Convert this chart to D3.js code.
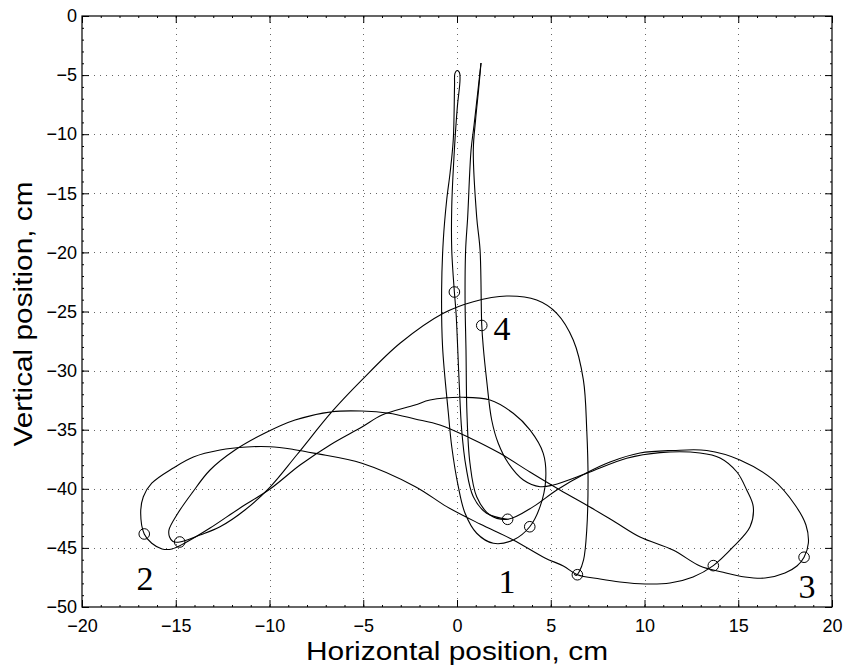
<!DOCTYPE html>
<html>
<head>
<meta charset="utf-8">
<script src="https://cdn.jsdelivr.net/npm/d3@7"></script>
<style>
  body { margin: 0; background: #fff; }
  svg { display: block; }
  .tick text { font-family: "Liberation Sans", Arial, sans-serif; font-size: 18px; fill: #000; }
</style>
</head>
<body>
<svg id="chart" width="848" height="670"></svg>
<script>
// trajectories, [horizontal cm, vertical cm]
const trajA = [
  [1.28,-3.98],[1.12,-6.26],[0.91,-9.22],[0.75,-11.34],[0.57,-17.00],[0.46,-19.80],[0.43,-24.03],
  [0.48,-28.26],[0.53,-33.59],[0.69,-37.82],[1.05,-40.67],[1.76,-42.22],[2.70,-42.58],
  [4.07,-41.51],[5.32,-40.10],[6.92,-38.64],[8.16,-37.73],[9.76,-36.97],[11.52,-36.76],[13.32,-36.76],
  [15.09,-37.56],[16.87,-39.25],[18.03,-41.37],[18.61,-43.06],[18.74,-44.58],[18.51,-45.79],
  [18.13,-46.53],[17.49,-47.12],[16.43,-47.55],[15.36,-47.46],[14.13,-47.04],[12.96,-46.53],
  [11.52,-45.18],[9.76,-44.08],[8.43,-42.81],[7.09,-41.54],[5.49,-40.10],[3.89,-38.58],[2.29,-37.00],
  [0.69,-35.70],[-0.91,-34.60],[-2.24,-34.09],[-3.63,-33.61],[-5.07,-33.42],[-6.67,-33.48],
  [-8.64,-34.18],[-10.24,-35.28],[-11.84,-36.72],[-13.17,-38.41],[-14.13,-40.35],[-14.88,-42.05],
  [-15.36,-43.48],[-15.33,-44.08],[-15.15,-44.46],[-14.79,-44.50],
  [-13.71,-43.91],[-12.64,-43.21],[-11.31,-41.79],[-9.97,-39.85],[-8.55,-37.14],[-6.67,-33.48],
  [-5.07,-30.79],[-3.04,-27.69],[-0.73,-25.15],[0.87,-24.17],[2.65,-23.69],[4.25,-24.03],
  [5.32,-25.15],[6.20,-27.41],[6.74,-30.79],[6.92,-35.02],[6.99,-39.25],[6.92,-43.48],
  [6.75,-46.02],[6.51,-47.04],[6.35,-47.33],[6.25,-47.20]
]

const trajB = [
  [2.70,-42.58],[1.58,-42.07],[0.87,-40.67],[0.48,-38.13],[0.25,-35.02],[0.11,-30.79],[-0.05,-25.13],
  [-0.14,-23.35],[-0.28,-19.80],[-0.28,-16.13],[-0.14,-11.34],[0.02,-7.67],[0.16,-5.41],[0.13,-4.78],
  [0,-4.61],[-0.11,-4.86],[-0.13,-5.84],[-0.20,-10.49],[-0.37,-13.28],[-0.55,-15.57],[-0.73,-18.95],
  [-0.82,-23.18],[-0.77,-27.98],[-0.46,-33.61],[-0.28,-36.44],[0.07,-39.82],[0.43,-42.07],
  [1.05,-43.76],[1.94,-44.61],[3.00,-44.33],[3.88,-43.21],
  [4.43,-41.51],[4.73,-39.25],[4.60,-37.00],[3.89,-35.02],[3.00,-33.61],[1.76,-32.49],[0.34,-32.26],
  [-1.44,-32.49],[-2.24,-32.91],[-4.00,-33.76],[-5.07,-34.77],[-6.77,-36.29],[-8.37,-37.99],
  [-9.97,-40.02],[-11.57,-41.62],[-13.17,-43.32],[-14.51,-44.58],[-15.20,-45.09],[-15.73,-45.09],
  [-16.28,-44.61],[-16.68,-43.82],[-16.87,-42.07],[-16.73,-40.67],[-16.28,-39.53],[-15.13,-38.24],
  [-14.06,-37.31],[-12.64,-36.72],[-11.22,-36.46],[-9.97,-36.44],[-8.73,-36.67],[-7.56,-37.00],
  [-5.07,-37.84],[-2.22,-39.82],[-0.55,-41.51],[1.23,-42.98],[3.00,-44.33],[4.69,-45.85],
  [5.67,-46.53],[6.42,-47.27],[7.63,-47.63],[8.69,-47.88],[10.03,-48.05],[11.36,-47.97],
  [12.59,-47.46],[13.67,-46.50],[14.74,-44.90],[15.63,-43.21],[15.80,-41.51],[15.45,-40.10],
  [14.93,-38.58],[14.03,-37.39],[12.96,-36.97],[10.83,-36.94],[9.05,-37.42],[6.92,-38.69],
  [5.14,-39.68],[4.43,-39.82],[3.54,-39.25],[2.74,-37.84],[2.20,-36.15],[1.85,-34.18],
  [1.58,-30.79],[1.40,-27.98],[1.32,-26.14],[1.23,-19.80],[1.05,-17.00],[0.87,-11.34],
  [0.99,-8.80],[1.15,-6.26],[1.28,-3.98]
]

// circle markers
const markers = [
  [-16.68,-43.82],[-14.79,-44.50],[-0.14,-23.35],[1.32,-26.18],[2.70,-42.58],
  [3.88,-43.21],[6.42,-47.27],[13.67,-46.50],[18.51,-45.79]
]

// target numbers
const targetLabels = [
  { text: "1", x: 2.67, y: -48.8 },
  { text: "2", x: -16.64, y: -48.56 },
  { text: "3", x: 18.67, y: -49.24 },
  { text: "4", x: 2.4, y: -27.41 }
]

const xTicks = d3.range(-20, 21, 5)
const yTicks = d3.range(-50, 1, 5)
const xMinor = d3.range(-20, 21, 1)
const yMinor = d3.range(-50, 1, 1)

const svg = d3.select("#chart")
const mLeft = 82, mRight = 832, mTop = 16, mBottom = 607

const x = d3.scaleLinear().domain([-20, 20]).range([mLeft, mRight])
const y = d3.scaleLinear().domain([-50, 0]).range([mBottom, mTop])

svg.append("rect").attr("width", 848).attr("height", 670).attr("fill", "#fff")

//grid
const grid = svg.append("g")
  .attr("stroke", "#666")
  .attr("stroke-width", 1)
  .attr("stroke-dasharray", "1,5")

grid.selectAll(".gx")
  .data(xTicks.slice(1, -1))
  .join("line")
  .attr("x1", (d) => Math.round(x(d)) + 0.5)
  .attr("x2", (d) => Math.round(x(d)) + 0.5)
  .attr("y1", mTop).attr("y2", mBottom)

grid.selectAll(".gy")
  .data(yTicks.slice(1, -1))
  .join("line")
  .attr("y1", (d) => Math.round(y(d)) + 0.5)
  .attr("y2", (d) => Math.round(y(d)) + 0.5)
  .attr("x1", mLeft).attr("x2", mRight)

//curves
const line = d3.line()
  .x((d) => x(d[0]))
  .y((d) => y(d[1]))
  .curve(d3.curveCatmullRom.alpha(0.5))

svg.selectAll(".traj")
  .data([trajA, trajB])
  .join("path")
  .attr("d", line)
  .attr("fill", "none")
  .attr("stroke", "#000")
  .attr("stroke-width", 1.1)

svg.selectAll(".mk")
  .data(markers)
  .join("circle")
  .attr("cx", (d) => x(d[0]))
  .attr("cy", (d) => y(d[1]))
  .attr("r", 5.3)
  .attr("fill", "none")
  .attr("stroke", "#000")
  .attr("stroke-width", 1)

svg.selectAll(".lbl")
  .data(targetLabels)
  .join("text")
  .attr("x", (d) => x(d.x))
  .attr("y", (d) => y(d.y))
  .attr("text-anchor", "middle")
  .attr("font-family", "'Liberation Serif', 'Times New Roman', serif")
  .attr("font-size", 34)
  .text((d) => d.text)

//axes
const fmt = (d) => (d < 0 ? "\u2212" + Math.abs(d) : d)

svg.append("g")
  .attr("transform", `translate(0,${mBottom})`)
  .call(d3.axisBottom(x).tickValues(xTicks).tickSize(-7).tickSizeOuter(0).tickPadding(12).tickFormat(fmt))
svg.append("g")
  .attr("transform", `translate(${mLeft},0)`)
  .call(d3.axisLeft(y).tickValues(yTicks).tickSize(-7).tickSizeOuter(0).tickPadding(5).tickFormat(fmt))
svg.append("g")
  .attr("transform", `translate(0,${mTop})`)
  .call(d3.axisTop(x).tickValues(xTicks).tickSize(-7).tickSizeOuter(0).tickFormat(""))
svg.append("g")
  .attr("transform", `translate(${mRight},0)`)
  .call(d3.axisRight(y).tickValues(yTicks).tickSize(-7).tickSizeOuter(0).tickFormat(""))

// minor ticks
svg.append("g").attr("transform", `translate(0,${mBottom})`)
  .call(d3.axisBottom(x).tickValues(xMinor).tickSize(-2).tickSizeOuter(0).tickFormat(""))
svg.append("g").attr("transform", `translate(0,${mTop})`)
  .call(d3.axisTop(x).tickValues(xMinor).tickSize(-2).tickSizeOuter(0).tickFormat(""))
svg.append("g").attr("transform", `translate(${mLeft},0)`)
  .call(d3.axisLeft(y).tickValues(yMinor).tickSize(-2).tickSizeOuter(0).tickFormat(""))
svg.append("g").attr("transform", `translate(${mRight},0)`)
  .call(d3.axisRight(y).tickValues(yMinor).tickSize(-2).tickSizeOuter(0).tickFormat(""))

svg.selectAll(".domain").remove()
svg.selectAll(".tick line").attr("stroke", "#000")

svg.append("rect")
  .attr("x", mLeft).attr("y", mTop)
  .attr("width", mRight - mLeft).attr("height", mBottom - mTop)
  .attr("fill", "none").attr("stroke", "#000").attr("stroke-width", 1.2)

//titles
svg.append("text")
  .attr("x", (mLeft + mRight) / 2)
  .attr("y", 660)
  .attr("text-anchor", "middle")
  .attr("font-family", "'Liberation Sans', Arial, sans-serif")
  .attr("font-size", 26)
  .attr("textLength", 302)
  .attr("lengthAdjust", "spacingAndGlyphs")
  .text("Horizontal position, cm")

svg.append("text")
  .attr("transform", `translate(32,${314}) rotate(-90)`)
  .attr("text-anchor", "middle")
  .attr("font-family", "'Liberation Sans', Arial, sans-serif")
  .attr("font-size", 25)
  .attr("textLength", 265)
  .attr("lengthAdjust", "spacingAndGlyphs")
  .text("Vertical position, cm")
</script>
</body>
</html>
